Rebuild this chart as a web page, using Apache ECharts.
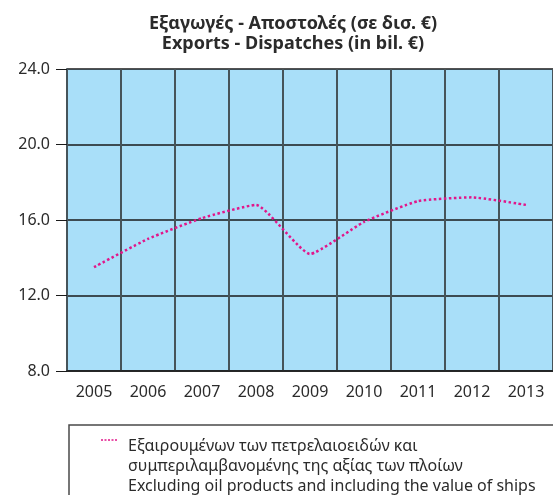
<!DOCTYPE html>
<html>
<head>
<meta charset="utf-8">
<script src="https://cdn.jsdelivr.net/npm/echarts@6/dist/echarts.min.js"></script>
<style>
  html, body { margin: 0; padding: 0; background: #fff; }
  #chart { width: 553px; height: 495px; }
</style>
</head>
<body>
<div id="chart"></div>
<script>
// Exports - dispatches, billions of euro
var years = ['2005', '2006', '2007', '2008', '2009', '2010', '2011', '2012', '2013'];
var exportsExOil = [13.5, 15.0, 16.1, 16.8, 14.2, 15.9, 17.0, 17.2, 16.8];
var yTicks = { min: 8, max: 24, step: 4 };

var seriesLabel = [
  'Εξαιρουμένων των πετρελαιοειδών και',
  'συμπεριλαμβανομένης της αξίας των πλοίων',
  'Excluding oil products and including the value of ships'
];
var titleText = 'Εξαγωγές - Αποστολές (σε δισ. €)\nExports - Dispatches (in bil. €)';

var FONT = '"Noto Sans", "DejaVu Sans", sans-serif';
var TEXT = '#2b2b2b';
var LINE_COLOR = '#e2168a';

var chart = echarts.init(document.getElementById('chart'), null, { renderer: 'canvas' });

chart.setOption({
  animation: false,
  backgroundColor: '#ffffff',
  textStyle: { fontFamily: FONT },
  title: {
    text: titleText,
    left: 288,
    textAlign: 'center',
    top: 9,
    textStyle: { fontFamily: FONT, fontSize: 18, fontWeight: 'bold', color: TEXT, lineHeight: 20 }
  },
  grid: {
    left: 67,
    top: 69,
    width: 492,
    height: 302,
    show: true,
    backgroundColor: '#a9dff9',
    borderWidth: 0
  },
  // Legend box below the plot: frame, dotted sample and the three-line caption
  graphic: [
    {
      type: 'rect',
      shape: { x: 69, y: 425, width: 520, height: 120 },
      style: { fill: 'none', stroke: '#4a4a4a', lineWidth: 1.5 },
      silent: true
    },
    {
      type: 'line',
      shape: { x1: 101, y1: 440, x2: 118, y2: 440 },
      style: { stroke: LINE_COLOR, lineWidth: 1.5, lineDash: [2, 1.5] },
      silent: true
    },
    {
      type: 'text',
      left: 128,
      top: 436,
      style: {
        text: seriesLabel.join('\n'),
        fill: TEXT,
        font: '16px ' + FONT,
        lineHeight: 20
      },
      silent: true
    }
  ],
  xAxis: {
    type: 'category',
    data: years,
    boundaryGap: true,
    axisLine: { show: true, lineStyle: { color: '#1a1a1a', width: 1.5 } },
    axisTick: { show: false },
    axisLabel: { color: TEXT, fontSize: 16, fontFamily: FONT, margin: 13 },
    splitLine: { show: true, lineStyle: { color: '#46545a', width: 2 } }
  },
  yAxis: {
    type: 'value',
    min: yTicks.min,
    max: yTicks.max,
    interval: yTicks.step,
    axisLine: { show: true, lineStyle: { color: '#46545a', width: 2 } },
    axisTick: { show: true, inside: false, length: 11, lineStyle: { color: '#1a1a1a', width: 1 } },
    axisLabel: {
      color: TEXT, fontSize: 16, fontFamily: FONT, margin: 17,
      formatter: function (v) { return v.toFixed(1); }
    },
    splitLine: { show: true, lineStyle: { color: '#1a1a1a', width: 1.5 } }
  },
  series: [{
    name: seriesLabel.join(' '),
    type: 'line',
    data: exportsExOil,
    smooth: 0.15,
    showSymbol: false,
    symbol: 'none',
    lineStyle: { color: LINE_COLOR, width: 2.5, type: [2.5, 2.5] },
    itemStyle: { color: LINE_COLOR },
    z: 5
  }]
});
</script>
</body>
</html>
